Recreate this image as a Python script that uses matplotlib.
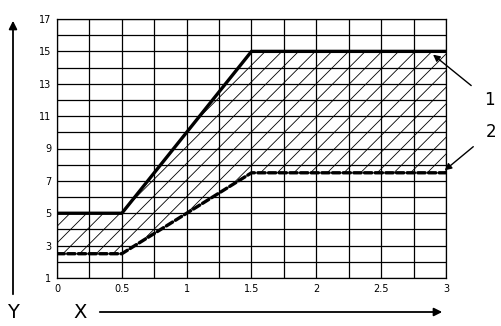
import matplotlib
matplotlib.use("Agg")
import matplotlib.pyplot as plt
import numpy as np

# Data
x_pts = [0, 0.5, 1.5, 3]
upper = [5, 5, 15, 15]      # curve 1
lower = [2.5, 2.5, 7.5, 7.5]  # curve 2
x_ticks = [0, 0.5, 1, 1.5, 2, 2.5, 3]
x_tick_labels = ["0", "0.5", "1", "1.5", "2", "2.5", "3"]
y_ticks = [1, 3, 5, 7, 9, 11, 13, 15, 17]

plt.rcParams['hatch.linewidth'] = 0.6
plt.rcParams['font.family'] = ['DejaVu Sans']

fig = plt.figure(figsize=(5.02, 3.26), dpi=100)
ax = fig.add_axes([57/502, 1-278/326, (446-57)/502, (278-19)/326])
ax.set_xlim(0, 3)
ax.set_ylim(1, 17)

# grid
for xv in np.arange(0, 3.001, 0.25):
    ax.axvline(xv, color='black', lw=0.9, zorder=1)
for yv in range(1, 18):
    ax.axhline(yv, color='black', lw=0.9, zorder=1)

ax.fill_between(x_pts, lower, upper, facecolor='none', edgecolor='black',
                hatch='//', linewidth=0, zorder=2)
ax.plot(x_pts, upper, color='black', lw=2.4, solid_capstyle='round', zorder=3)
ax.plot(x_pts, lower, color='black', lw=2.4, dashes=(2.2, 1.0),
        dash_capstyle='round', zorder=3)

ax.set_xticks(x_ticks)
ax.set_xticklabels(x_tick_labels)
ax.set_yticks(y_ticks)
ax.tick_params(length=0, labelsize=7, pad=4)
for s in ax.spines.values():
    s.set_linewidth(0.9)

# annotations
ax.annotate("1", xy=(2.90, 14.8), xycoords='data', xytext=(489/502, 1-100/326),
            textcoords='figure fraction', fontsize=12, ha='center', va='center',
            arrowprops=dict(arrowstyle='-|>', color='black', lw=1.0,
                            shrinkA=9, shrinkB=0, mutation_scale=10))
ax.annotate("2", xy=(2.99, 7.65), xycoords='data', xytext=(491/502, 1-132/326),
            textcoords='figure fraction', fontsize=12, ha='center', va='center',
            arrowprops=dict(arrowstyle='-|>', color='black', lw=1.0,
                            shrinkA=9, shrinkB=0, mutation_scale=10))

# axis arrows
fig.add_artist(matplotlib.patches.FancyArrowPatch(
    (13/502, 1-297/326), (13/502, 1-18/326), transform=fig.transFigure,
    arrowstyle='-|>', mutation_scale=12, color='black', lw=1.3))
fig.add_artist(matplotlib.patches.FancyArrowPatch(
    (97/502, 1-312/326), (445/502, 1-312/326), transform=fig.transFigure,
    arrowstyle='-|>', mutation_scale=12, color='black', lw=1.3))
fig.text(13/502, 1-312/326, "Y", fontsize=14, ha='center', va='center')
fig.text(80/502, 1-312/326, "X", fontsize=14, ha='center', va='center')

fig.savefig("out.png", dpi=100)
